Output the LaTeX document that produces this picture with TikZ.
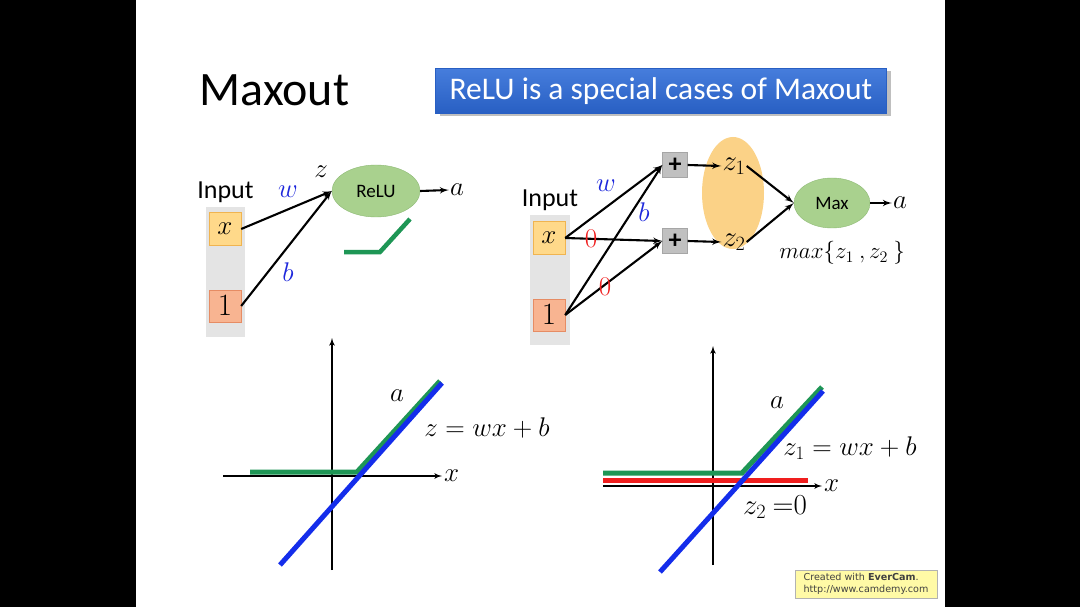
\RequirePackage{fix-cm}
\documentclass[tikz,border=0pt]{standalone}
\usepackage{fontspec}
\setmainfont{Carlito}
\newfontfamily\wmfont{DejaVu Sans}
\usetikzlibrary{shapes.geometric, arrows, positioning, calc}

\definecolor{colgray}{RGB}{228,228,228}
\definecolor{xfill}{RGB}{255,217,138}
\definecolor{xline}{RGB}{240,180,80}
\definecolor{onefill}{RGB}{248,180,145}
\definecolor{oneline}{RGB}{230,140,100}
\definecolor{unitfill}{RGB}{169,209,142}
\definecolor{unitline}{RGB}{140,185,115}
\definecolor{zfill}{RGB}{251,210,135}
\definecolor{plusfill}{RGB}{192,192,192}
\definecolor{wblue}{RGB}{30,40,220}
\definecolor{zred}{RGB}{240,30,30}
\definecolor{agreen}{RGB}{30,150,85}
\definecolor{zblue}{RGB}{20,45,235}
\definecolor{bannertop}{RGB}{70,125,220}
\definecolor{bannerbot}{RGB}{40,95,195}

\begin{document}
\begin{tikzpicture}[
    x=1pt, y=-1pt,
    column/.style={rectangle, fill=colgray, minimum width=39pt, minimum height=130pt, inner sep=0pt},
    xbox/.style={rectangle, draw=xline, fill=xfill, minimum width=32pt, minimum height=33pt, inner sep=0pt, font=\fontsize{27}{29}\selectfont},
    onebox/.style={rectangle, draw=oneline, fill=onefill, minimum width=32pt, minimum height=32pt, inner sep=0pt, font=\fontsize{31}{33}\selectfont},
    plusbox/.style={rectangle, draw=gray!70, fill=plusfill, minimum width=25pt, minimum height=25pt, inner sep=0pt, font=\bfseries\fontsize{26}{28}\selectfont},
    unit/.style={ellipse, draw=unitline, fill=unitfill, inner sep=0pt, font=\fontsize{19}{21}\selectfont},
    txt/.style={font=\fontsize{26}{28}\selectfont},
    mlabel/.style={font=\fontsize{27}{29}\selectfont, inner sep=1pt},
    wire/.style={draw, -latex', line width=2.1pt},
    axis/.style={draw, -latex', line width=1.6pt},
    curve/.style={line width=5pt}
]
% slide
\fill[black] (0,0) rectangle (1080,607);
\fill[white] (136,0) rectangle (945,607);
\useasboundingbox (0,0) rectangle (1080,607);

\node[font=\fontsize{48}{50}\selectfont, anchor=west] (title) at (196,90) {Maxout};
\fill[black!25] (440,71) rectangle (891,116);
\node[rectangle, top color=bannertop, bottom color=bannerbot, draw=bannerbot, minimum width=451pt, minimum height=45pt, text=white, font=\fontsize{31.5}{33}\selectfont] (banner) at (661,91) {ReLU is a special cases of Maxout};

% ReLU neuron
\node[column] (lcol) at (225.5,272) {};
\node[xbox] (lx) at (225,229) {$x$};
\node[onebox] (lone) at (225,306) {$1$};
\node[txt, above=1pt of lcol] (lin) {Input};
\node[unit, minimum width=88pt, minimum height=52pt] (relu) at (376,191) {ReLU};
\node[mlabel] (lz) at (321,172) {$z$};
\node[mlabel] (la) at (457,190) {$a$};
\node[mlabel, text=wblue] (lw) at (288,192) {$w$};
\node[mlabel, text=wblue] (lb) at (288,272) {$b$};

\path[wire] (lx.east) -- (relu.west);
\path[wire] (lone.east) -- (relu.west);
\path[wire] (relu.east) -- (la.west);
\draw[agreen, line width=4.5pt] (344,252) -- (380,252) -- (410,219);

% Maxout neuron
\node[column, minimum width=40pt] (rcol) at (550,280) {};
\node[xbox] (rx) at (549,238) {$x$};
\node[onebox] (rone) at (549,315) {$1$};
\node[txt, above=1pt of rcol] (rin) {Input};
\node[plusbox] (p1) at (675,165) {+};
\node[plusbox] (p2) at (675,241) {+};
\node[ellipse, fill=zfill, minimum width=62pt, minimum height=112pt] (zg) at (733,193) {};
\node[mlabel, font=\fontsize{29}{31}\selectfont] (z1) at (734,166) {$z_1$};
\node[mlabel, font=\fontsize{29}{31}\selectfont] (z2) at (734,242) {$z_2$};
\node[unit, minimum width=76pt, minimum height=50pt] (mx) at (832,203) {Max};
\node[mlabel] (ra) at (900,203) {$a$};
\node[font=\fontsize{23}{25}\selectfont] (mxf) at (842,253) {$max\{z_1\ ,z_2\ \}$};
\node[mlabel, text=wblue] (rw) at (606,186) {$w$};
\node[mlabel, text=wblue] (rb) at (644,212) {$b$};

\path[wire] (rx.east) -- (p1.west);
\path[wire] (rx.east) -- (p2.west);
\path[wire] (rone.east) -- (p1.west);
\path[wire] (rone.east) -- (p2.west);
\path[wire] (p1.east) -- (z1.west);
\path[wire] (p2.east) -- (z2.west);
\path[wire] (z1.east) -- (mx.west);
\path[wire] (z2.east) -- (mx.west);
\path[wire] (mx.east) -- (ra.west);
\node[mlabel, text=zred] (r0a) at (591,239) {$0$};
\node[mlabel, text=zred] (r0b) at (605,287) {$0$};

% ReLU plot
\path[axis] (223,476) -- (442,476) coordinate (lxe);
\path[axis] (332,570) -- (332,338);
\node[mlabel, right=1pt of lxe] (lxl) {$x$};
\draw[agreen, curve] (250,472) -- (357,472) -- (440,381);
\draw[zblue, curve] (280,565) -- (442,383);
\node[mlabel] (lal) at (397,396) {$a$};
\node[mlabel] (lzl) at (487,428) {$z = wx + b$};

% Maxout plot
\path[axis] (603,486) -- (822,486) coordinate (rxe);
\path[axis] (713,565) -- (713,346);
\node[mlabel, right=1pt of rxe] (rxl) {$x$};
\draw[agreen, curve] (603,473) -- (742,473) -- (822,387);
\draw[zred, curve] (603,480) -- (808,480);
\draw[zblue, curve] (660,572) -- (823,391);
\node[mlabel] (ral) at (777,403) {$a$};
\node[mlabel] (rz1) at (850,448) {$z_1 = wx + b$};
\node[mlabel, font=\fontsize{29}{31}\selectfont] (rz2) at (775,507) {$z_2$ $=$$0$};

% watermark
\node[rectangle, draw=gray!60, fill=yellow!35, minimum width=142pt, minimum height=28pt, align=left, text=black!75, font=\wmfont\fontsize{9.6}{11.5}\selectfont] (wm) at (866,584) {Created with \textbf{EverCam}.\\http://www.camdemy.com};
\end{tikzpicture}
\end{document}
